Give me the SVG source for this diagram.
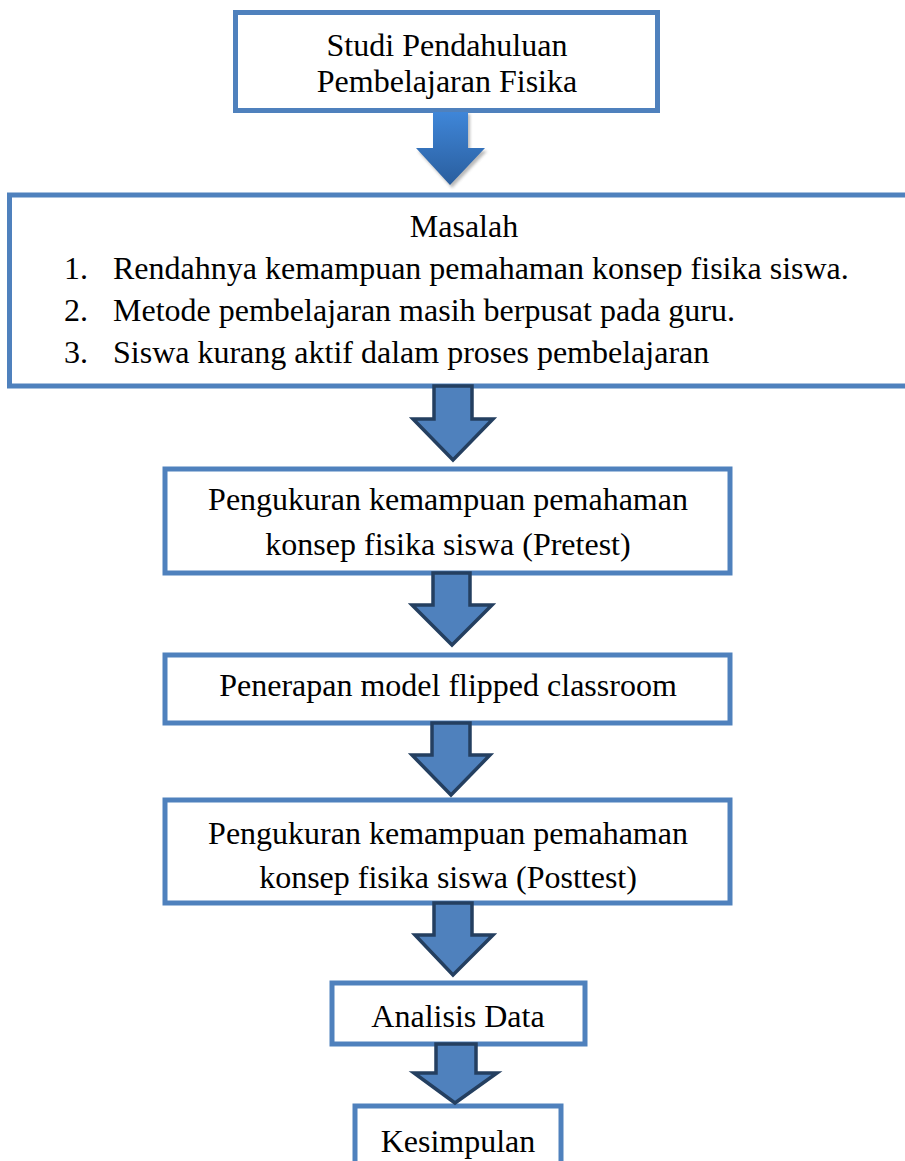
<svg xmlns="http://www.w3.org/2000/svg" width="905" height="1161" viewBox="0 0 905 1161">
<defs>
<style>
.box{fill:#fff;stroke:#4F81BD;stroke-width:5}
.t{font-family:"Liberation Serif","Times New Roman",serif;font-size:32px;fill:#000}
.c{text-anchor:middle}
.arr{fill:#4F81BD;stroke:#243F60;stroke-width:3.5;stroke-linejoin:miter}
</style>
<linearGradient id="g1" x1="0" y1="0" x2="0" y2="1">
<stop offset="0" stop-color="#3F86D8"/>
<stop offset="1" stop-color="#2A5E9E"/>
</linearGradient>
<filter id="blur" x="-20%" y="-20%" width="140%" height="140%"><feGaussianBlur stdDeviation="1.5"/></filter>
</defs>
<rect width="905" height="1161" fill="#fff"/>
<g id="n1">
<rect class="box" x="235.5" y="12.5" width="422" height="98"/>
<text class="t c" x="447" y="56">Studi Pendahuluan</text>
<text class="t c" x="447" y="92">Pembelajaran Fisika</text>
</g>
<g id="n2">
<rect class="box" x="9.5" y="195" width="905" height="191"/>
<text class="t c" x="464" y="237">Masalah</text>
<text class="t" x="64" y="279">1.</text>
<text class="t" x="113" y="279">Rendahnya kemampuan pemahaman konsep fisika siswa.</text>
<text class="t" x="64" y="321">2.</text>
<text class="t" x="113" y="321">Metode pembelajaran masih berpusat pada guru.</text>
<text class="t" x="64" y="363">3.</text>
<text class="t" x="113" y="363">Siswa kurang aktif dalam proses pembelajaran</text>
</g>
<g id="n3">
<rect class="box" x="165" y="469" width="565" height="104"/>
<text class="t c" x="448" y="510">Pengukuran kemampuan pemahaman</text>
<text class="t c" x="448" y="555">konsep fisika siswa (Pretest)</text>
</g>
<g id="n4">
<rect class="box" x="165" y="655" width="565" height="68"/>
<text class="t c" x="448" y="696">Penerapan model flipped classroom</text>
</g>
<g id="n5">
<rect class="box" x="165" y="800" width="565" height="103"/>
<text class="t c" x="448" y="844">Pengukuran kemampuan pemahaman</text>
<text class="t c" x="448" y="888">konsep fisika siswa (Posttest)</text>
</g>
<g id="n6">
<rect class="box" x="332" y="983" width="253" height="61"/>
<text class="t c" x="458" y="1027">Analisis Data</text>
</g>
<g id="n7">
<rect class="box" x="355" y="1106" width="206" height="70"/>
<text class="t c" x="458" y="1152">Kesimpulan</text>
</g>
<g id="connectors">
<polygon points="435,114 470,114 470,151 487,151 452,188 418,151 435,151" fill="#808080" opacity="0.55" filter="url(#blur)"/>
<polygon points="433,112 468,112 468,148 485,148 450,185 416,148 433,148" fill="url(#g1)"/>
<polygon class="arr" points="434,386 472,386 472,419 493,419 453,460 413,419 434,419"/>
<polygon class="arr" points="433,573 470,573 470,605 492,605 452,645 412,605 433,605"/>
<polygon class="arr" points="432,723 470,723 470,755 490,755 451,795 412,755 432,755"/>
<polygon class="arr" points="434,903 472,903 472,935 493,935 453,975 415,935 434,935"/>
<polygon class="arr" points="436,1044 476,1044 476,1073 497,1073 455,1103 414,1073 436,1073"/>
</g>
</svg>
